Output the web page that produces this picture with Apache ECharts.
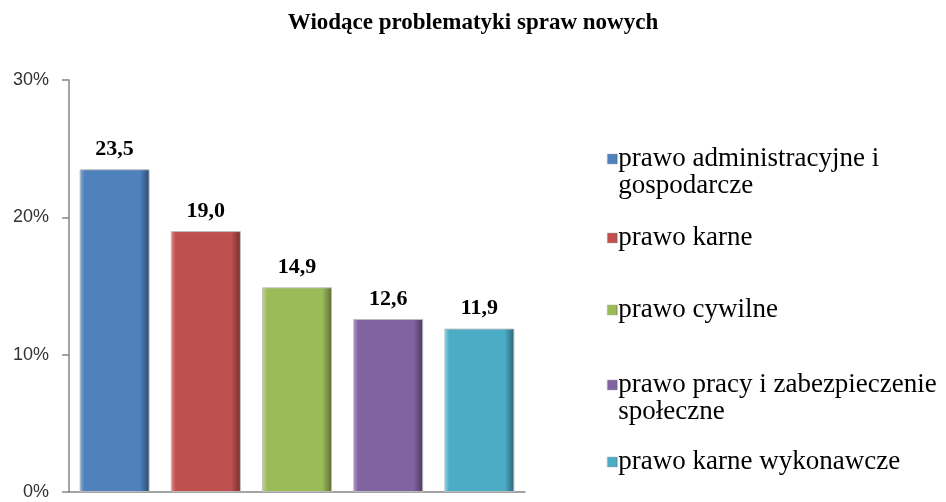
<!DOCTYPE html>
<html>
<head>
<meta charset="utf-8">
<script src="https://cdn.jsdelivr.net/npm/echarts@6/dist/echarts.min.js"></script>
<style>html,body{margin:0;padding:0;background:#fff;}#chart{width:946px;height:502px;}</style>
</head>
<body>
<div id="chart"></div>
<script>
const titleText = 'Wiodące problematyki spraw nowych';
const categories = ['prawo administracyjne i\ngospodarcze', 'prawo karne', 'prawo cywilne', 'prawo pracy i zabezpieczenie\nspołeczne', 'prawo karne wykonawcze'];
const values = [23.5, 19.0, 14.9, 12.6, 11.9];
const yTicks = [0, 10, 20, 30];
const baseColors = ['#4F81BD', '#C0504D', '#9BBB59', '#8064A2', '#4BACC6'];
const lightColors = ['#8DB0DE', '#E08C8A', '#C6DE8E', '#AE97CC', '#8AD5E8'];
const darkColors = ['#2C4A6E', '#702E2C', '#5A6D33', '#4A3A5E', '#2B6473'];
const legendCenters = [159, 238, 310, 385, 462];

const serif = "'Liberation Serif', 'Times New Roman', serif";
const sans = "'Liberation Sans', Arial, sans-serif";
const LH = 27;

function grad(i) {
  return new echarts.graphic.LinearGradient(0, 0, 1, 0, [
    {offset: 0, color: lightColors[i]},
    {offset: 0.07, color: baseColors[i]},
    {offset: 0.86, color: baseColors[i]},
    {offset: 1, color: darkColors[i]}
  ]);
}

const series = categories.map((name, i) => ({
  name: name,
  type: 'bar',
  barWidth: 70,
  barGap: '-100%',
  data: values.map((v, j) => (j === i ? v : null)),
  itemStyle: {color: grad(i), borderColor: 'rgba(190,190,190,0.9)', borderWidth: 1},
  label: {
    show: true,
    position: 'top',
    distance: 9,
    fontFamily: serif,
    fontWeight: 'bold',
    fontSize: 22,
    color: '#000',
    formatter: p => p.value.toFixed(1).replace('.', ',')
  }
}));

const legends = categories.map((name, i) => {
  const twoLine = name.indexOf('\n') >= 0;
  return {
    left: 607,
    top: legendCenters[i] - (twoLine ? 1.5 * LH : 0.5 * LH),
    orient: 'vertical',
    padding: 0,
    itemWidth: 10,
    itemHeight: 10,
    icon: 'rect',
    itemStyle: {borderColor: '#aaa', borderWidth: 0.5},
    formatter: n => (n.indexOf('\n') >= 0 ? ' \n' + n : n),
    textStyle: {fontFamily: serif, fontSize: 27, color: '#000', lineHeight: LH, padding: [0, 0, 0, -4]},
    selectedMode: false,
    data: [name]
  };
});

const chart = echarts.init(document.getElementById('chart'));
chart.setOption({
  animation: false,
  title: {
    text: titleText,
    left: 'center',
    top: 12,
    padding: 0,
    textStyle: {fontFamily: serif, fontWeight: 'bold', fontSize: 23, color: '#000'}
  },
  legend: legends,
  grid: {left: 69, right: 421, top: 80, bottom: 10, containLabel: false},
  xAxis: {
    type: 'category',
    data: categories,
    axisLine: {lineStyle: {color: '#868686', width: 1.5}},
    axisTick: {show: false},
    axisLabel: {show: false}
  },
  yAxis: {
    type: 'value',
    min: yTicks[0],
    max: yTicks[yTicks.length - 1],
    interval: yTicks[1] - yTicks[0],
    axisLine: {show: true, lineStyle: {color: '#868686', width: 1.5}},
    axisTick: {show: true, length: 7, lineStyle: {color: '#868686', width: 1.5}},
    splitLine: {show: false},
    axisLabel: {margin: 20, fontFamily: sans, fontSize: 18, color: '#333', formatter: '{value}%'}
  },
  series: series
});
</script>
</body>
</html>
